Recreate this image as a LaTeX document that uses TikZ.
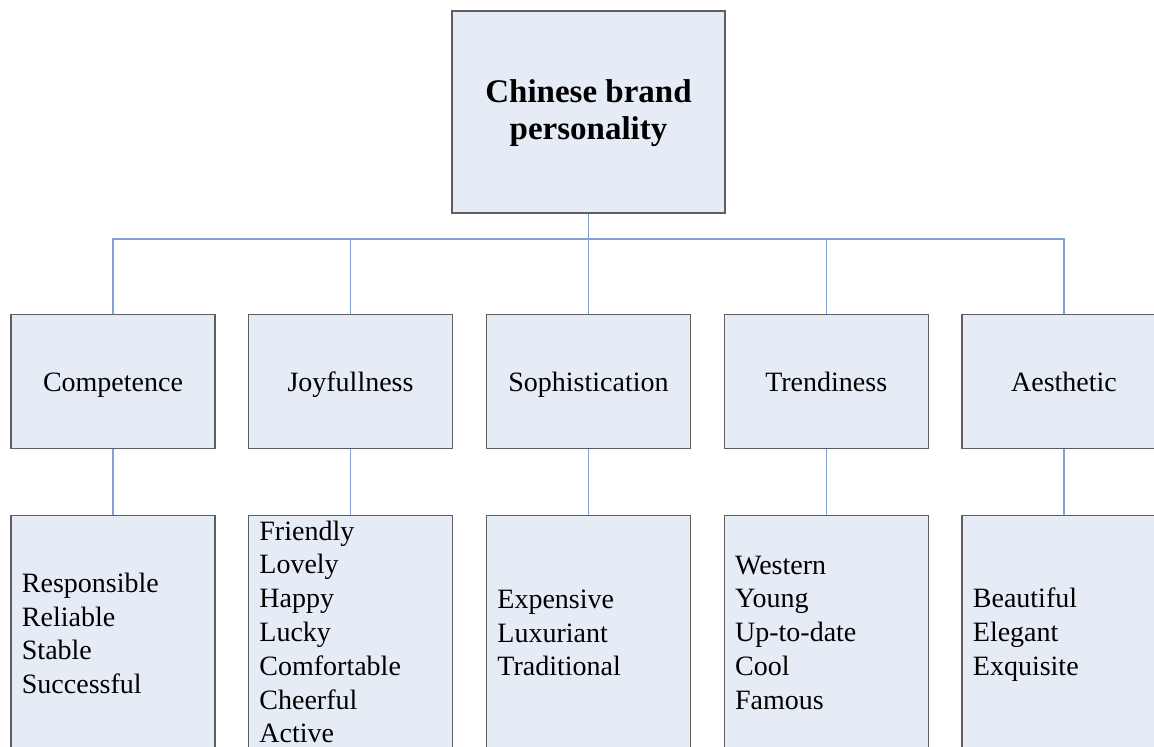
\documentclass[tikz,border=0pt]{standalone}
\usepackage{fontspec}
\setmainfont{Liberation Serif}
\definecolor{boxfill}{RGB}{230,236,246}
\definecolor{boxline}{RGB}{95,95,95}
\definecolor{connc}{RGB}{130,162,214}
\begin{document}
\begin{tikzpicture}[x=1pt,y=-1pt,
  box/.style={draw=boxline, fill=boxfill, line width=1.4pt, rectangle, inner sep=0pt, minimum width=204pt},
  topbox/.style={box, minimum width=273pt, minimum height=202pt},
  midbox/.style={box, minimum height=134.5pt},
  lowbox/.style={box, minimum height=240pt},
  conn/.style={draw=connc, line width=1.3pt},
  midlabel/.style={anchor=base, inner sep=0pt, font=\fontsize{28}{34}\selectfont},
  listlabel/.style={anchor=base west, inner sep=0pt, font=\fontsize{28}{33.8}\selectfont},
  titlelabel/.style={anchor=base, inner sep=0pt, font=\fontsize{33}{37}\selectfont\bfseries}]
\useasboundingbox (0,0) rectangle (1154,747);
\clip (0,0) rectangle (1154,747);

% top
\node[topbox] (top) at (588.5,112) {};
\node[titlelabel] (toptext) at (588.5,102) {\begin{tabular}[t]{@{}c@{}}Chinese brand\\personality\end{tabular}};

% middle row
\node[midbox] (c1) at (113,381.5) {};
\node[midbox] (c2) at (350.5,381.5) {};
\node[midbox] (c3) at (588.5,381.5) {};
\node[midbox] (c4) at (826.2,381.5) {};
\node[midbox] (c5) at (1064,381.5) {};
\node[midlabel] (t1) at (113,391.5) {Competence};
\node[midlabel] (t2) at (350.5,391.5) {Joyfullness};
\node[midlabel] (t3) at (588.5,391.5) {Sophistication};
\node[midlabel] (t4) at (826.2,391.5) {Trendiness};
\node[midlabel] (t5) at (1064,391.5) {Aesthetic};

% bottom row
\node[lowbox] (d1) at (113,635.7) {};
\node[lowbox] (d2) at (350.5,635.7) {};
\node[lowbox] (d3) at (588.5,635.7) {};
\node[lowbox] (d4) at (826.2,635.7) {};
\node[lowbox] (d5) at (1064,635.7) {};
\node[listlabel] (l1) at (21.7,592.3) {\begin{tabular}[t]{@{}l@{}}Responsible\\Reliable\\Stable\\Successful\end{tabular}};
\node[listlabel] (l2) at (259.2,540) {\begin{tabular}[t]{@{}l@{}}Friendly\\Lovely\\Happy\\Lucky\\Comfortable\\Cheerful\\Active\end{tabular}};
\node[listlabel] (l3) at (497.2,608.3) {\begin{tabular}[t]{@{}l@{}}Expensive\\Luxuriant\\Traditional\end{tabular}};
\node[listlabel] (l4) at (734.9,574) {\begin{tabular}[t]{@{}l@{}}Western\\Young\\Up-to-date\\Cool\\Famous\end{tabular}};
\node[listlabel] (l5) at (972.7,607.7) {\begin{tabular}[t]{@{}l@{}}Beautiful\\Elegant\\Exquisite\end{tabular}};

% connectors
\coordinate (bus) at (588.5,239);
\draw[conn] (top.south) -- (top.south |- bus);
\foreach \c in {c1,c2,c3,c4,c5} {
  \draw[conn] (top.south |- bus) -| (\c.north);
}
\foreach \c/\d in {c1/d1,c2/d2,c3/d3,c4/d4,c5/d5} {
  \draw[conn] (\c.south) -- (\d.north);
}
\end{tikzpicture}
\end{document}
